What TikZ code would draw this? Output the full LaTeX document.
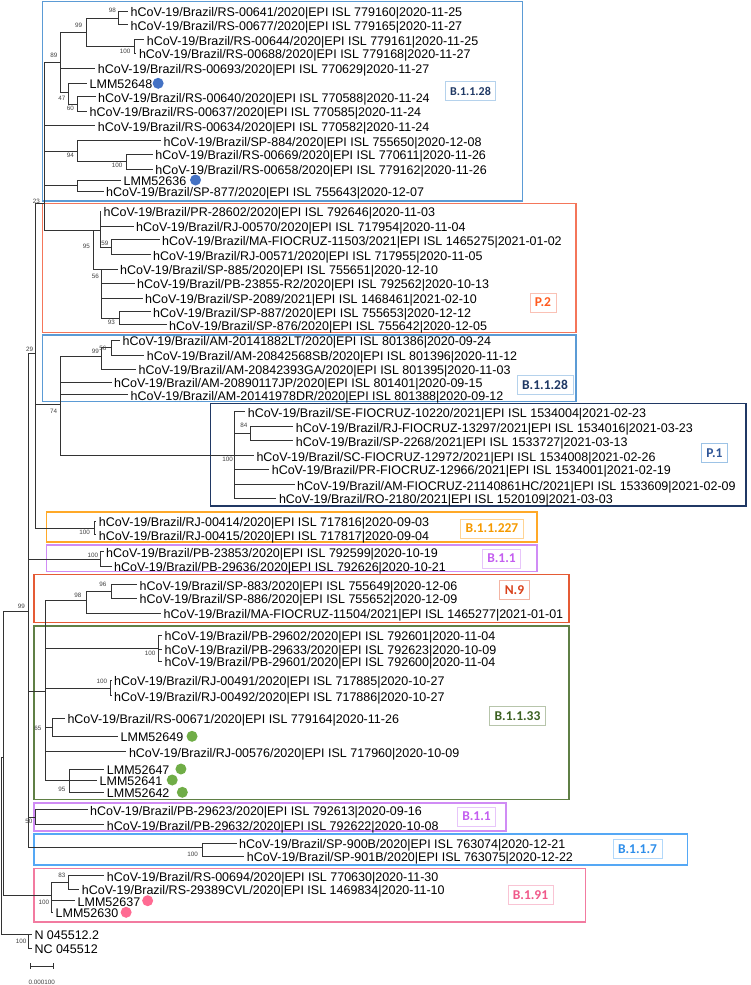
\documentclass[tikz,border=0pt]{standalone}
\usepackage{fontspec}
\setmainfont{Liberation Sans}
\newfontfamily\cladefont{Carlito}
\usetikzlibrary{positioning}
\definecolor{cB28}{HTML}{5B9BD5}
\definecolor{cB28t}{HTML}{1F3864}
\definecolor{cP2}{HTML}{F4765A}
\definecolor{cP2t}{HTML}{FF5A1F}
\definecolor{cP1}{HTML}{203864}
\definecolor{cP1t}{HTML}{2F5597}
\definecolor{cB227}{HTML}{FFA928}
\definecolor{cB227t}{HTML}{F59A00}
\definecolor{cB11}{HTML}{D08CF5}
\definecolor{cB11t}{HTML}{C45EF0}
\definecolor{cN9}{HTML}{E55B35}
\definecolor{cN9t}{HTML}{D9401A}
\definecolor{cB33}{HTML}{5F7F45}
\definecolor{cB33t}{HTML}{3B6020}
\definecolor{cB7}{HTML}{55A8F5}
\definecolor{cB7t}{HTML}{2E8EEA}
\definecolor{cB91}{HTML}{F27BA0}
\definecolor{cB91t}{HTML}{F0588A}
\definecolor{dotblue}{HTML}{4472C4}
\definecolor{dotgreen}{HTML}{70AD47}
\definecolor{dotpink}{HTML}{FF6B93}

\begin{document}
\begin{tikzpicture}[x=1pt,y=-1pt]
                \tikzstyle{branch}=[draw=black!80,line width=0.6pt]
                \tikzstyle{twig}=[branch,shorten >=2.5pt]
                \tikzstyle{leafname}=[anchor=west,inner sep=0pt,text height=11pt,text depth=0pt,font=\fontsize{12.5}{14}\selectfont]
                \tikzstyle{boot}=[anchor=east,inner sep=0pt,text=black!75,font=\fontsize{6.3}{7}\selectfont]
                \tikzstyle{clade}=[line width=1.6pt]
                \tikzstyle{cladelabel}=[draw,line width=0.7pt,fill=white,inner xsep=5pt,inner ysep=0pt,minimum height=19pt,font=\cladefont\bfseries\fontsize{13.5}{15}\selectfont]
                \tikzstyle{sample}=[circle,inner sep=0pt,minimum size=11pt]

                \useasboundingbox (0,0) rectangle (750,985);

                % clade boxes
                \draw [clade,cB28] (42.3,1.5) rectangle (522.5,201);
                \draw [clade,cP2] (42.3,203.3) rectangle (576,332.5);
                \draw [clade,cB28] (42.3,335) rectangle (576,401.5);
                \draw [clade,cP1] (210.6,403.3) rectangle (746,506);
                \draw [clade,cB227] (46.6,511.7) rectangle (537,542);
                \draw [clade,cB11] (46.6,545) rectangle (537,571.3);
                \draw [clade,cN9] (33.7,574.3) rectangle (568.8,622.3);
                \draw [clade,cB33] (33.7,625.7) rectangle (568.8,799.3);
                \draw [clade,cB11] (33.7,802.7) rectangle (506,831);
                \draw [clade,cB7] (33.7,834) rectangle (687.5,865);
                \draw [clade,cB91] (33.7,868.3) rectangle (585.6,921.7);

                \node [cladelabel,draw=cB28!45,text=cB28t,font=\cladefont\bfseries\fontsize{12}{14}\selectfont] (labB28a) at (470.5,91) {B.1.1.28};
                \node [cladelabel,draw=cP2!45,text=cP2t] (labP2) at (543,302.5) {P.2};
                \node [cladelabel,draw=cB28!45,text=cB28t] (labB28b) at (545,384.5) {B.1.1.28};
                \node [cladelabel,draw=cB28!60,text=cP1t] (labP1) at (714.5,453) {P.1};
                \node [cladelabel,draw=cB227!50,text=cB227t] (labB227) at (492,528.5) {B.1.1.227};
                \node [cladelabel,draw=cB11!50,text=cB11t] (labB11a) at (501.5,558.5) {B.1.1};
                \node [cladelabel,draw=cN9!45,text=cN9t] (labN9) at (514.5,590) {N.9};
                \node [cladelabel,draw=cB33!45,text=cB33t] (labB33) at (517.5,716) {B.1.1.33};
                \node [cladelabel,draw=cB11!50,text=cB11t] (labB11b) at (476.5,816.5) {B.1.1};
                \node [cladelabel,draw=cB7!45,text=cB7t] (labB7) at (637.5,849) {B.1.1.7};
                \node [cladelabel,draw=cB91!45,text=cB91t] (labB91) at (530.5,895) {B.1.91};

                % sequences
                \node [leafname] (rs00641) at (130.5,11.3) {hCoV-19/Brazil/RS-00641/2020|EPI ISL 779160|2020-11-25};
                \node [leafname] (rs00677) at (130.5,24.7) {hCoV-19/Brazil/RS-00677/2020|EPI ISL 779165|2020-11-27};
                \node [leafname] (rs00644) at (146.6,39.7) {hCoV-19/Brazil/RS-00644/2020|EPI ISL 779161|2020-11-25};
                \node [leafname] (rs00688) at (138.8,53.3) {hCoV-19/Brazil/RS-00688/2020|EPI ISL 779168|2020-11-27};
                \node [leafname] (rs00693) at (97.7,68.3) {hCoV-19/Brazil/RS-00693/2020|EPI ISL 770629|2020-11-27};
                \node [leafname] (lmm52648) at (89.5,83.3) {LMM52648};
                \node [leafname] (rs00640) at (98,96.7) {hCoV-19/Brazil/RS-00640/2020|EPI ISL 770588|2020-11-24};
                \node [leafname] (rs00637) at (89.5,111.3) {hCoV-19/Brazil/RS-00637/2020|EPI ISL 770585|2020-11-24};
                \node [leafname] (rs00634) at (97.7,125.7) {hCoV-19/Brazil/RS-00634/2020|EPI ISL 770582|2020-11-24};
                \node [leafname] (sp884) at (163.5,140.7) {hCoV-19/Brazil/SP-884/2020|EPI ISL 755650|2020-12-08};
                \node [leafname] (rs00669) at (155.2,154) {hCoV-19/Brazil/RS-00669/2020|EPI ISL 770611|2020-11-26};
                \node [leafname] (rs00658) at (155.2,169) {hCoV-19/Brazil/RS-00658/2020|EPI ISL 779162|2020-11-26};
                \node [leafname] (lmm52636) at (123.5,180) {LMM52636};
                \node [leafname] (sp877) at (106,191.3) {hCoV-19/Brazil/SP-877/2020|EPI ISL 755643|2020-12-07};

                \node [leafname] (pr28602) at (103.4,211.3) {hCoV-19/Brazil/PR-28602/2020|EPI ISL 792646|2020-11-03};
                \node [leafname] (rj00570) at (136,226.3) {hCoV-19/Brazil/RJ-00570/2020|EPI ISL 717954|2020-11-04};
                \node [leafname] (ma11503) at (162,239.7) {hCoV-19/Brazil/MA-FIOCRUZ-11503/2021|EPI ISL 1465275|2021-01-02};
                \node [leafname] (rj00571) at (153,254.7) {hCoV-19/Brazil/RJ-00571/2020|EPI ISL 717955|2020-11-05};
                \node [leafname] (sp885) at (120,269) {hCoV-19/Brazil/SP-885/2020|EPI ISL 755651|2020-12-10};
                \node [leafname] (pb23855) at (137,283.3) {hCoV-19/Brazil/PB-23855-R2/2020|EPI ISL 792562|2020-10-13};
                \node [leafname] (sp2089) at (145,298) {hCoV-19/Brazil/SP-2089/2021|EPI ISL 1468461|2021-02-10};
                \node [leafname] (sp887) at (153,311.7) {hCoV-19/Brazil/SP-887/2020|EPI ISL 755653|2020-12-12};
                \node [leafname] (sp876) at (169,324.7) {hCoV-19/Brazil/SP-876/2020|EPI ISL 755642|2020-12-05};

                \node [leafname] (amLT) at (122.5,340) {hCoV-19/Brazil/AM-20141882LT/2020|EPI ISL 801386|2020-09-24};
                \node [leafname] (amSB) at (146.6,355) {hCoV-19/Brazil/AM-20842568SB/2020|EPI ISL 801396|2020-11-12};
                \node [leafname] (amGA) at (138.5,369) {hCoV-19/Brazil/AM-20842393GA/2020|EPI ISL 801395|2020-11-03};
                \node [leafname] (amJP) at (114,382.3) {hCoV-19/Brazil/AM-20890117JP/2020|EPI ISL 801401|2020-09-15};
                \node [leafname] (amDR) at (130.5,394.7) {hCoV-19/Brazil/AM-20141978DR/2020|EPI ISL 801388|2020-09-12};

                \node [leafname] (se10220) at (247.6,411.7) {hCoV-19/Brazil/SE-FIOCRUZ-10220/2021|EPI ISL 1534004|2021-02-23};
                \node [leafname] (rj13297) at (295.7,426.7) {hCoV-19/Brazil/RJ-FIOCRUZ-13297/2021|EPI ISL 1534016|2021-03-23};
                \node [leafname] (sp2268) at (295.7,440.7) {hCoV-19/Brazil/SP-2268/2021|EPI ISL 1533727|2021-03-13};
                \node [leafname] (sc12972) at (256.3,455.7) {hCoV-19/Brazil/SC-FIOCRUZ-12972/2021|EPI ISL 1534008|2021-02-26};
                \node [leafname] (pr12966) at (271.6,469) {hCoV-19/Brazil/PR-FIOCRUZ-12966/2021|EPI ISL 1534001|2021-02-19};
                \node [leafname] (amHC) at (297,484.7) {hCoV-19/Brazil/AM-FIOCRUZ-21140861HC/2021|EPI ISL 1533609|2021-02-09};
                \node [leafname] (ro2180) at (278.8,498) {hCoV-19/Brazil/RO-2180/2021|EPI ISL 1520109|2021-03-03};

                \node [leafname] (rj00414) at (98.6,521.3) {hCoV-19/Brazil/RJ-00414/2020|EPI ISL 717816|2020-09-03};
                \node [leafname] (rj00415) at (98.6,534.7) {hCoV-19/Brazil/RJ-00415/2020|EPI ISL 717817|2020-09-04};
                \node [leafname] (pb23853) at (106,551.7) {hCoV-19/Brazil/PB-23853/2020|EPI ISL 792599|2020-10-19};
                \node [leafname] (pb29636) at (114,566.3) {hCoV-19/Brazil/PB-29636/2020|EPI ISL 792626|2020-10-21};

                \node [leafname] (sp883) at (139.4,584.7) {hCoV-19/Brazil/SP-883/2020|EPI ISL 755649|2020-12-06};
                \node [leafname] (sp886) at (139.4,598) {hCoV-19/Brazil/SP-886/2020|EPI ISL 755652|2020-12-09};
                \node [leafname] (ma11504) at (163.5,613) {hCoV-19/Brazil/MA-FIOCRUZ-11504/2021|EPI ISL 1465277|2021-01-01};

                \node [leafname] (pb29602) at (164.4,635) {hCoV-19/Brazil/PB-29602/2020|EPI ISL 792601|2020-11-04};
                \node [leafname] (pb29633) at (164.4,649) {hCoV-19/Brazil/PB-29633/2020|EPI ISL 792623|2020-10-09};
                \node [leafname] (pb29601) at (164.4,661.3) {hCoV-19/Brazil/PB-29601/2020|EPI ISL 792600|2020-11-04};
                \node [leafname] (rj00491) at (114,680) {hCoV-19/Brazil/RJ-00491/2020|EPI ISL 717885|2020-10-27};
                \node [leafname] (rj00492) at (114,695.7) {hCoV-19/Brazil/RJ-00492/2020|EPI ISL 717886|2020-10-27};
                \node [leafname] (rs00671) at (67.3,718) {hCoV-19/Brazil/RS-00671/2020|EPI ISL 779164|2020-11-26};
                \node [leafname] (lmm52649) at (120.5,736.3) {LMM52649};
                \node [leafname] (rj00576) at (128.8,751.7) {hCoV-19/Brazil/RJ-00576/2020|EPI ISL 717960|2020-10-09};
                \node [leafname] (lmm52647) at (106.7,769) {LMM52647};
                \node [leafname] (lmm52641) at (99.5,780) {LMM52641};
                \node [leafname] (lmm52642) at (106.7,792.3) {LMM52642};

                \node [leafname] (pb29623) at (90,809.7) {hCoV-19/Brazil/PB-29623/2020|EPI ISL 792613|2020-09-16};
                \node [leafname] (pb29632) at (106.7,824.7) {hCoV-19/Brazil/PB-29632/2020|EPI ISL 792622|2020-10-08};
                \node [leafname] (sp900b) at (239,843) {hCoV-19/Brazil/SP-900B/2020|EPI ISL 763074|2020-12-21};
                \node [leafname] (sp901b) at (246.6,856.3) {hCoV-19/Brazil/SP-901B/2020|EPI ISL 763075|2020-12-22};

                \node [leafname] (rs00694) at (106.7,875.7) {hCoV-19/Brazil/RS-00694/2020|EPI ISL 770630|2020-11-30};
                \node [leafname] (rs29389) at (81.7,889) {hCoV-19/Brazil/RS-29389CVL/2020|EPI ISL 1469834|2020-11-10};
                \node [leafname] (lmm52637) at (77.5,900.7) {LMM52637};
                \node [leafname] (lmm52630) at (55.5,912.3) {LMM52630};

                \node [leafname] (ref1) at (34.3,934) {N 045512.2};
                \node [leafname] (ref2) at (34.3,948) {NC 045512};

                % study samples
                \node [sample,fill=dotblue,right=0pt of lmm52648] (dot52648) {};
                \node [sample,fill=dotblue,right=3.4pt of lmm52636] (dot52636) {};
                \node [sample,fill=dotgreen,right=2.9pt of lmm52649] (dot52649) {};
                \node [sample,fill=dotgreen,right=5.6pt of lmm52647] (dot52647) {};
                \node [sample,fill=dotgreen,right=4.1pt of lmm52641] (dot52641) {};
                \node [sample,fill=dotgreen,right=7pt of lmm52642] (dot52642) {};
                \node [sample,fill=dotpink,right=1.5pt of lmm52637] (dot52637) {};
                \node [sample,fill=dotpink,right=2pt of lmm52630] (dot52630) {};

                % inner nodes
                \coordinate (b98a) at (118.3,18);
                \coordinate (b100a) at (134.3,46.5);
                \coordinate (b99a) at (86,32);
                \coordinate (b60) at (77.3,104);
                \coordinate (b47) at (68.3,92);
                \coordinate (b89) at (60.3,62);
                \coordinate (b100b) at (126.7,161.5);
                \coordinate (b94) at (77.3,151);
                \coordinate (n36) at (77.3,185.6);
                \coordinate (b23) at (44.3,203);
                \coordinate (b95a) at (93.3,230);
                \coordinate (nP2) at (100,230);
                \coordinate (b59) at (111.5,247.2);
                \coordinate (b56a) at (101,269);
                \coordinate (b93) at (119.2,318.2);
                \coordinate (b56b) at (111.5,347.5);
                \coordinate (b99b) at (101.7,356.7);
                \coordinate (b74) at (60,404);
                \coordinate (b100p) at (234,455.7);
                \coordinate (b84) at (250,433.7);
                \coordinate (nmid) at (35.7,353);
                \coordinate (b100d) at (94.7,528);
                \coordinate (b29) at (28.3,611);
                \coordinate (b100c) at (100,559);
                \coordinate (nB33) at (45,691.7);
                \coordinate (b98c) at (86,600);
                \coordinate (b96) at (111.2,591.3);
                \coordinate (b100t) at (158.5,648.3);
                \coordinate (b100r) at (110.5,688);
                \coordinate (b65) at (52.7,727);
                \coordinate (b95c) at (69.7,780);
                \coordinate (b50) at (35,817.2);
                \coordinate (b100f) at (202,847);
                \coordinate (b99r) at (3.5,757);
                \coordinate (b100e) at (51.7,895);
                \coordinate (b83) at (68.3,882.3);
                \coordinate (b100g) at (28,934);
                \coordinate (root) at (1,757);

                % branches
                \draw [twig] (b98a) |- (rs00641);
                \draw [twig] (b98a) |- (rs00677);
                \draw [twig] (b100a) |- (rs00644);
                \draw [twig] (b100a) |- (rs00688);
                \draw [branch] (b99a) |- (b98a);
                \draw [branch] (b99a) |- (b100a);
                \draw [twig] (b60) |- (rs00640);
                \draw [twig] (b60) |- (rs00637);
                \draw [twig] (b47) |- (lmm52648);
                \draw [branch] (b47) |- (b60);
                \draw [branch] (b89) |- (b99a);
                \draw [twig] (b89) |- (rs00693);
                \draw [branch] (b89) |- (b47);
                \draw [twig] (b100b) |- (rs00669);
                \draw [twig] (b100b) |- (rs00658);
                \draw [twig] (b94) |- (sp884);
                \draw [branch] (b94) |- (b100b);
                \draw [twig] (n36) |- (lmm52636);
                \draw [twig] (n36) |- (sp877);
                \draw [branch] (b23) |- (b89);
                \draw [twig] (b23) |- (rs00634);
                \draw [branch] (b23) |- (b94);
                \draw [branch] (b23) |- (n36);
                \draw [branch] (b23) |- (b95a);

                \draw [branch] (b95a) -- (nP2);
                \draw [branch] (b95a) |- (b56a);
                \draw [twig] (nP2) |- (pr28602);
                \draw [twig] (nP2) |- (rj00570);
                \draw [branch] (nP2) |- (b59);
                \draw [twig] (b59) |- (ma11503);
                \draw [twig] (b59) |- (rj00571);
                \draw [twig] (b56a) |- (sp885);
                \draw [twig] (b56a) |- (pb23855);
                \draw [twig] (b56a) |- (sp2089);
                \draw [branch] (b56a) |- (b93);
                \draw [twig] (b93) |- (sp887);
                \draw [twig] (b93) |- (sp876);

                \draw [twig] (b56b) |- (amLT);
                \draw [twig] (b56b) |- (amSB);
                \draw [branch] (b99b) |- (b56b);
                \draw [twig] (b99b) |- (amGA);
                \draw [branch] (b74) |- (b99b);
                \draw [twig] (b74) |- (amJP);
                \draw [twig] (b74) |- (amDR);
                \draw [branch] (b74) |- (b100p);
                \draw [twig] (b100p) |- (se10220);
                \draw [branch] (b100p) |- (b84);
                \draw [twig] (b84) |- (rj13297);
                \draw [twig] (b84) |- (sp2268);
                \draw [twig] (b100p) |- (sc12972);
                \draw [twig] (b100p) |- (pr12966);
                \draw [twig] (b100p) |- (amHC);
                \draw [twig] (b100p) |- (ro2180);

                \draw [branch] (nmid) |- (b23);
                \draw [branch] (nmid) |- (b74);
                \draw [branch] (nmid) |- (b100d);
                \draw [twig] (b100d) |- (rj00414);
                \draw [twig] (b100d) |- (rj00415);

                \draw [branch] (b29) |- (nmid);
                \draw [branch] (b29) |- (b100c);
                \draw [twig] (b100c) |- (pb23853);
                \draw [twig] (b100c) |- (pb29636);
                \draw [branch] (b29) |- (nB33);
                \draw [branch] (b29) |- (b50);
                \draw [branch] (b29) |- (b100f);

                \draw [branch] (nB33) |- (b98c);
                \draw [branch] (b98c) |- (b96);
                \draw [twig] (b96) |- (sp883);
                \draw [twig] (b96) |- (sp886);
                \draw [twig] (b98c) |- (ma11504);
                \draw [branch] (nB33) |- (b100t);
                \draw [twig] (b100t) |- (pb29602);
                \draw [twig] (b100t) |- (pb29633);
                \draw [twig] (b100t) |- (pb29601);
                \draw [branch] (nB33) |- (b100r);
                \draw [twig] (b100r) |- (rj00491);
                \draw [twig] (b100r) |- (rj00492);
                \draw [branch] (nB33) |- (b65);
                \draw [twig] (b65) |- (rs00671);
                \draw [twig] (b65) |- (lmm52649);
                \draw [twig] (nB33) |- (rj00576);
                \draw [branch] (nB33) |- (b95c);
                \draw [twig] (b95c) |- (lmm52647);
                \draw [twig] (b95c) |- (lmm52641);
                \draw [twig] (b95c) |- (lmm52642);

                \draw [twig] (b50) |- (pb29623);
                \draw [twig] (b50) |- (pb29632);
                \draw [twig] (b100f) |- (sp900b);
                \draw [twig] (b100f) |- (sp901b);

                \draw [branch] (b99r) |- (b29);
                \draw [branch] (b99r) |- (b100e);
                \draw [branch] (b100e) |- (b83);
                \draw [twig] (b83) |- (rs00694);
                \draw [twig] (b83) |- (rs29389);
                \draw [twig] (b100e) |- (lmm52637);
                \draw [twig] (b100e) |- (lmm52630);

                \draw [branch] (root) -- (b99r);
                \draw [branch] (root) |- (b100g);
                \draw [twig] (b100g) |- (ref1);
                \draw [twig] (b100g) |- (ref2);

                % bootstrap values
                \node [boot] (bs98a) at (116,10.7) {98};
                \node [boot] (bs99a) at (82.3,25) {99};
                \node [boot] (bs100a) at (130.7,51.7) {100};
                \node [boot] (bs89) at (57.7,55.7) {89};
                \node [boot] (bs47) at (65.7,98.3) {47};
                \node [boot] (bs60) at (74,108.3) {60};
                \node [boot] (bs94) at (74,155) {94};
                \node [boot] (bs100b) at (122.7,165.7) {100};
                \node [boot] (bs23) at (40,201) {23};
                \node [boot] (bs95a) at (90,246.5) {95};
                \node [boot] (bs59) at (108.5,243) {59};
                \node [boot] (bs56a) at (99,276.7) {56};
                \node [boot] (bs93) at (115,322.7) {93};
                \node [boot] (bs56b) at (106.7,348.3) {56};
                \node [boot] (bs99b) at (99,351) {99};
                \node [boot] (bs29) at (33.3,349) {29};
                \node [boot] (bs74) at (57.3,411.7) {74};
                \node [boot] (bs84) at (247.6,425.7) {84};
                \node [boot] (bs100p) at (233,459.3) {100};
                \node [boot] (bs100d) at (90,532.7) {100};
                \node [boot] (bs100c) at (98.3,555) {100};
                \node [boot] (bs96) at (106.7,584) {96};
                \node [boot] (bs98c) at (81.7,595) {98};
                \node [boot] (bs99r) at (25,606.7) {99};
                \node [boot] (bs100t) at (155.7,653.3) {100};
                \node [boot] (bs100r) at (107.3,681.7) {100};
                \node [boot] (bs65) at (41.7,728.3) {65};
                \node [boot] (bs95c) at (65.7,789) {95};
                \node [boot] (bs50) at (32.7,821.7) {50};
                \node [boot] (bs100f) at (198,854.3) {100};
                \node [boot] (bs83) at (65.7,875.7) {83};
                \node [boot] (bs100e) at (49.3,902.7) {100};
                \node [boot] (bs100g) at (26.7,941.7) {100};

                % scale
                \coordinate (scaleL) at (30,966);
                \coordinate (scaleR) at (53.3,966);
                \draw [branch,|-|] (scaleL) -- (scaleR);
                \node [boot,anchor=center] (scaletext) at (41.7,982) {0.000100};
            \end{tikzpicture}
\end{document}
